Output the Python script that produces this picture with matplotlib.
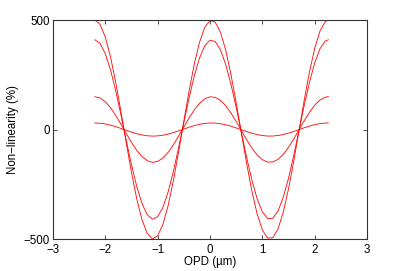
import matplotlib
matplotlib.use("Agg")
import matplotlib.pyplot as plt

plt.rcParams['font.family'] = ['Liberation Sans', 'DejaVu Sans']

opd = [-2.2, -2.1, -2.0, -1.9, -1.8, -1.7, -1.6, -1.5, -1.4, -1.3, -1.2, -1.1,
       -1.0, -0.9, -0.8, -0.7, -0.6, -0.5, -0.4, -0.3, -0.2, -0.1, 0.0, 0.1,
       0.2, 0.3, 0.4, 0.5, 0.6, 0.7, 0.8, 0.9, 1.0, 1.1, 1.2, 1.3, 1.4, 1.5,
       1.6, 1.7, 1.8, 1.9, 2.0, 2.1, 2.2, 2.26]

nl_500 = [500, 480.3, 422.7, 331.8, 214.7, 80.7, -59.7, -195.4, -315.7, -411.0,
          -474.0, -499.6, -485.8, -433.6, -347.4, -233.6, -101.5, 38.7, 175.7,
          299.0, 398.6, 466.8, 498.2, 490.3, 443.8, 362.1, 252.2, 122.2, -17.5,
          -155.8, -281.7, -385.5, -458.8, -496.0, -494.1, -453.1, -376.5, -270.2,
          -142.6, -3.7, 135.5, 263.9, 371.7, 450.0, 492.9, 500]

nl_410 = [410, 393.8, 346.6, 272.1, 176.1, 66.1, -49.0, -160.2, -258.8, -337.0,
          -388.6, -409.6, -398.3, -355.6, -284.8, -191.6, -83.2, 31.7, 144.0,
          245.1, 326.9, 382.8, 408.5, 402.0, 363.9, 296.9, 206.8, 100.2, -14.3,
          -127.7, -231.0, -316.1, -376.2, -406.7, -405.1, -371.5, -308.7, -221.5,
          -116.9, -3.0, 111.1, 216.4, 304.8, 369.0, 404.1, 410]

nl_150 = [150, 144.1, 126.8, 99.5, 64.4, 24.2, -17.9, -58.6, -94.7, -123.3,
          -142.2, -149.9, -145.7, -130.1, -104.2, -70.1, -30.4, 11.6, 52.7,
          89.7, 119.6, 140.0, 149.5, 147.1, 133.1, 108.6, 75.6, 36.6, -5.2,
          -46.7, -84.5, -115.7, -137.6, -148.8, -148.2, -135.9, -113.0, -81.0,
          -42.8, -1.1, 40.7, 79.2, 111.5, 135.0, 147.9, 150]

nl_30 = [30, 28.8, 25.4, 19.9, 12.9, 4.8, -3.6, -11.7, -18.9, -24.7,
         -28.4, -30.0, -29.1, -26.0, -20.8, -14.0, -6.1, 2.3, 10.5,
         17.9, 23.9, 28.0, 29.9, 29.4, 26.6, 21.7, 15.1, 7.3, -1.0,
         -9.3, -16.9, -23.1, -27.5, -29.8, -29.6, -27.2, -22.6, -16.2,
         -8.6, -0.2, 8.1, 15.8, 22.3, 27.0, 29.6, 30]

x_ticks = [-3, -2, -1, 0, 1, 2, 3]
y_ticks = [-500, 0, 500]

fig = plt.figure(figsize=(4.07, 2.71), dpi=100)
ax = fig.add_axes([0.130, 0.118, 0.772, 0.808])

for series in (nl_500, nl_410, nl_150, nl_30):
    ax.plot(opd, series, color='#ff0000', linewidth=0.6)

ax.set_xlim(-3, 3)
ax.set_ylim(-500, 500)
ax.set_xticks(x_ticks)
ax.set_xticklabels(['\u22123', '\u22122', '\u22121', '0', '1', '2', '3'])
ax.set_yticks(y_ticks)
ax.set_yticklabels(['\u2212500', '0', '500'])

ax.tick_params(direction='in', length=3, width=0.6, labelsize=8.3,
               top=True, right=True, color='#333333')
ax.tick_params(axis='x', pad=3.5)
ax.tick_params(axis='y', pad=2)
for s in ax.spines.values():
    s.set_linewidth(0.8)
    s.set_color('#333333')

ax.set_xlabel('OPD (\u00b5m)', fontsize=8.3, labelpad=0)
ax.set_ylabel('Non\u2212linearity (%)', fontsize=8.3, labelpad=3.5)

fig.savefig('out.png', dpi=100)
